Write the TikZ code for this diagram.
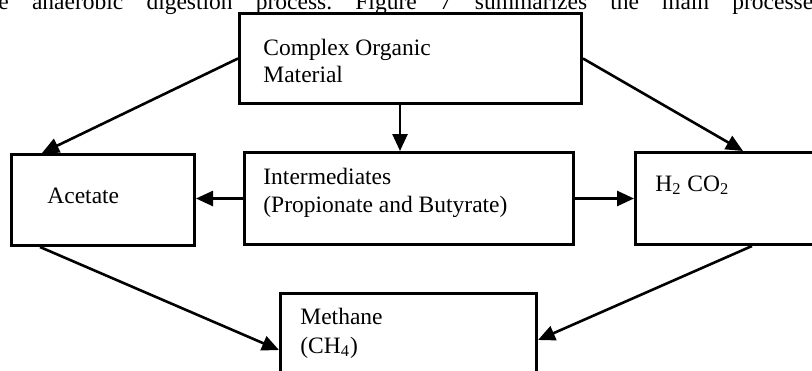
\documentclass[tikz,border=0pt]{standalone}
\usepackage{fontspec}
\setmainfont{Liberation Serif}
\usetikzlibrary{arrows.meta,calc}
\begin{document}
\begin{tikzpicture}[x=0.5pt,y=-0.5pt,
  box/.style={draw, line width=1.5pt, rectangle, inner sep=0pt, anchor=north west},
  lbl/.style={anchor=base west, inner sep=0pt, font=\fontsize{11.75pt}{14pt}\selectfont},
  conn/.style={line width=1.3pt, -{Triangle[length=8.5pt,width=7.5pt]}}]
\useasboundingbox (0,0) rectangle (812,370);
\clip (0,0) rectangle (812,370);
% running text above the figure (cut off at the top)
\node[lbl] (para) at (-2,9) {\frenchspacing\hbox to 412pt{e anaerobic digestion process. Figure 7 summarizes the main processes}};
% boxes
\node[box, minimum width=171pt, minimum height=45pt] (cm) at (238,12) {};
\node[box, minimum width=164.5pt, minimum height=46pt] (inter) at (243,151) {};
\node[box, minimum width=91.5pt, minimum height=45.5pt] (acet) at (10,153) {};
\node[box, minimum width=103pt, minimum height=46pt] (h2) at (634,151) {};
\node[box, minimum width=128pt, minimum height=64pt] (meth) at (279,292) {};
% labels
\node[lbl] (cmt1) at (263,55) {Complex Organic};
\node[lbl] (cmt2) at (263,82) {Material};
\node[lbl] (intert1) at (263,184) {Intermediates};
\node[lbl] (intert2) at (263,212) {(Propionate and Butyrate)};
\node[lbl] (acett) at (47,203) {Acetate};
\node[lbl] (h2t) at (655,191) {H\textsubscript{2} CO\textsubscript{2}};
\node[lbl] (metht1) at (300,324) {Methane};
\node[lbl] (metht2) at (300,353) {(CH\textsubscript{4})};
% connectors
\draw[conn] (cm.west) -- ($(acet.north west)+(32,0)$);
\draw[conn] ($(cm.south west)+(162,0)$) coordinate (d1) -- (d1 |- inter.north);
\draw[conn] (cm.east) -- ($(h2.north west)+(109,0)$);
\draw[conn] (inter.west) -- (inter.west -| acet.east);
\draw[conn] (inter.east) -- (inter.east -| h2.west);
\draw[conn] ($(acet.south west)+(30,0)$) -- ($(meth.north west)+(0,58)$);
\draw[conn] ($(h2.south west)+(118,0)$) -- ($(meth.north east)+(0,48)$);
\end{tikzpicture}
\end{document}
